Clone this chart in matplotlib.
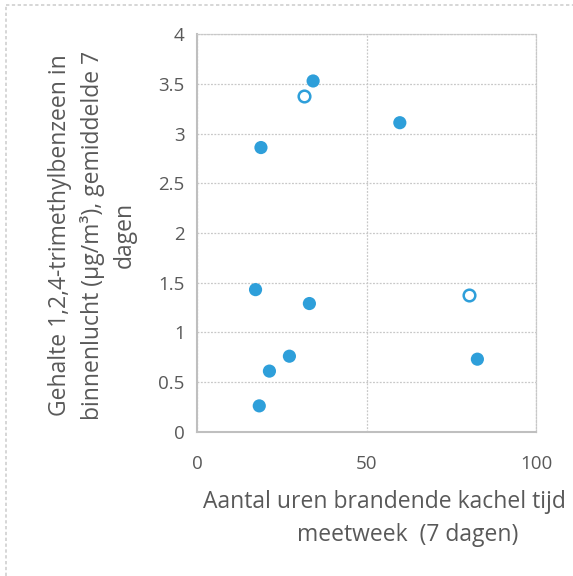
import matplotlib
matplotlib.use("Agg")
import matplotlib.pyplot as plt
from matplotlib.lines import Line2D

# Metingen: uren brandende kachel vs. gehalte 1,2,4-trimethylbenzeen
uren_gevuld = [34.2, 18.8, 59.8, 17.2, 33.1, 27.2, 21.3, 18.3, 82.7]
gehalte_gevuld = [3.53, 2.86, 3.11, 1.43, 1.29, 0.76, 0.61, 0.26, 0.73]
uren_open = [31.6, 80.1]
gehalte_open = [3.38, 1.38]

y_ticks = [0, 0.5, 1, 1.5, 2, 2.5, 3, 3.5, 4]
y_ticklabels = ["0", "0.5", "1", "1.5", "2", "2.5", "3", "3.5", "4"]
x_ticks = [0, 50, 100]

blauw = "#2E9FDA"
grijs_tekst = "#595959"
plt.rcParams["font.family"] = ["Open Sans", "DejaVu Sans"]

fig = plt.figure(figsize=(5.73, 5.76), dpi=100)
ax = fig.add_axes([0.3443, 0.2505, 0.5911, 0.6900])

ax.scatter(uren_gevuld, gehalte_gevuld, s=90, color=blauw, edgecolors="none", zorder=3)
ax.scatter(uren_open, gehalte_open, s=70, facecolors="white", edgecolors=blauw,
           linewidths=1.8, zorder=3)

ax.set_xlim(0, 100)
ax.set_ylim(0, 4)
ax.set_xticks(x_ticks)
ax.set_yticks(y_ticks)
ax.set_yticklabels(y_ticklabels)
ax.tick_params(length=0, labelsize=13.5, labelcolor=grijs_tekst)
ax.tick_params(axis="x", pad=17)
ax.tick_params(axis="y", pad=9)

ax.grid(True, color="#C8C8C8", linestyle=(0, (1.5, 1.2)), linewidth=0.9, zorder=0)
for kant in ["top", "right"]:
    ax.spines[kant].set_color("#C8C8C8")
    ax.spines[kant].set_linestyle((0, (1.5, 1.2)))
    ax.spines[kant].set_linewidth(0.9)
for kant in ["left", "bottom"]:
    ax.spines[kant].set_color("#BFBFBF")
    ax.spines[kant].set_linewidth(1.5)

# as-titels
fig.text(203 / 573, 1 - 502 / 576, "Aantal uren brandende kachel tijd",
         ha="left", va="center", fontsize=16.5, color=grijs_tekst)
fig.text(407.5 / 573, 1 - 535 / 576, "meetweek  (7 dagen)",
         ha="center", va="center", fontsize=16.5, color=grijs_tekst)
fig.text(92 / 573, 1 - 235 / 576,
         "Gehalte 1,2,4-trimethylbenzeen in\nbinnenlucht (µg/m³), gemiddelde 7\ndagen",
         ha="center", va="center", rotation=90, fontsize=16.5, color=grijs_tekst,
         linespacing=1.42)

# kader rond de grafiek
fig.add_artist(Line2D([0.0105, 0.0105], [0, 0.991], color="#D0D0D0", lw=1.2,
                      linestyle=(0, (2, 1.5))))
fig.add_artist(Line2D([0.0105, 1], [0.991, 0.991], color="#D0D0D0", lw=1.2,
                      linestyle=(0, (2, 1.5))))

fig.savefig("out.png", dpi=100)
